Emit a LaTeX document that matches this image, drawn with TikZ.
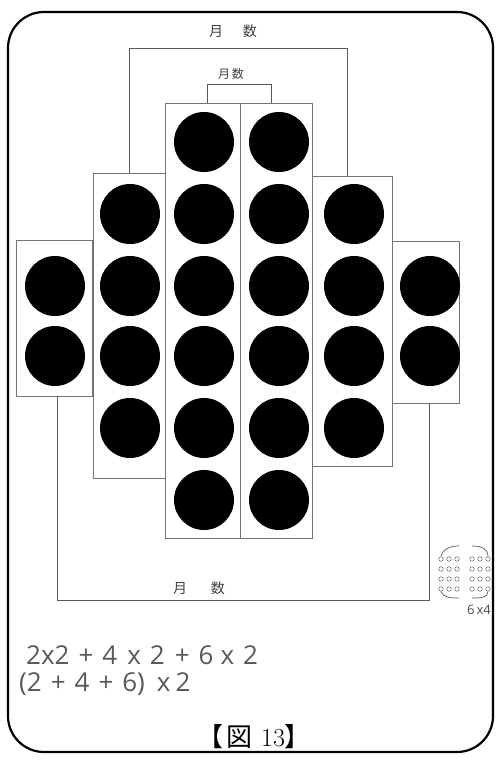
\documentclass[tikz,border=0pt]{standalone}
\usepackage{fontspec}
\newfontfamily\jp{Noto Sans CJK JP}
\newfontfamily\hand{Open Sans}
\begin{document}
\begin{tikzpicture}[x=1pt,y=-1pt,
  colbox/.style={draw=black!55, line width=0.8pt, minimum width=#1, inner sep=0pt},
  dot/.style={circle, fill=black, minimum size=60pt, inner sep=0pt},
  sdot/.style={circle, draw=black!60, line width=0.5pt, minimum size=4.5pt, inner sep=0pt},
  bracket/.style={draw=black!65, line width=0.8pt},
  lab/.style={font=\jp\fontsize{14}{14}\selectfont, text=black!75, inner sep=0pt},
  formula/.style={font=\hand\fontsize{26}{26}\selectfont, text=black!65, inner sep=0pt, anchor=west}]
\useasboundingbox (0,0) rectangle (501,760);
\draw[line width=2.2pt, rounded corners=36pt] (8,12) rectangle (493,752);
% columns
\node[colbox=76pt, minimum height=156pt] (c1) at (54,318) {};
\node[colbox=72pt, minimum height=305pt] (c2) at (129,325.5) {};
\node[colbox=75pt, minimum height=435pt] (c3) at (202.5,320.5) {};
\node[colbox=72pt, minimum height=435pt] (c4) at (276,320.5) {};
\node[colbox=80pt, minimum height=290pt] (c5) at (352,321) {};
\node[colbox=67pt, minimum height=162pt] (c6) at (425.5,322) {};
% dots
\foreach \y [count=\i] in {286,356} {
  \node[dot] (a\i) at (55,\y) {};
  \node[dot] (f\i) at (430,\y) {};
}
\foreach \y [count=\i] in {214,286,356,428} {
  \node[dot] (b\i) at (130,\y) {};
  \node[dot] (e\i) at (354,\y) {};
}
\foreach \y [count=\i] in {142,214,286,356,428,500} {
  \node[dot] (cc\i) at (204,\y) {};
  \node[dot] (d\i) at (279,\y) {};
}
% small top bracket
\coordinate (s1) at (207,84);
\coordinate (s2) at (271,84);
\draw[bracket] (s1 |- c3.north) -- (s1) -- (s2) -- (s2 |- c4.north);
\node[lab, font=\jp\fontsize{12}{12}\selectfont] (ls) at (231,74) {月\,数};
% big top bracket
\coordinate (t1) at (129,48);
\coordinate (t2) at (347,48);
\draw[bracket] (t1 |- c2.north) -- (t1) -- (t2) -- (t2 |- c5.north);
\node[lab] (lt) at (233,31) {月\hspace{20pt}数};
% bottom bracket
\coordinate (u1) at (57,600);
\coordinate (u2) at (429,600);
\draw[bracket] (u1 |- c1.south) -- (u1) -- (u2) -- (u2 |- c6.south);
\node[lab] (lb) at (199,588) {月\hspace{24pt}数};
% small sketch of 6x4
\foreach \r in {0,1,2,3} {
  \foreach \c [count=\k] in {441,449,457,472,480,488} {
    \node[sdot] (g\r\k) at (\c,{559+\r*10}) {};
  }
}
\draw[black!65, line width=0.7pt] (g01.north) .. controls (443,548) and (452,546) .. (459,546);
\draw[black!65, line width=0.7pt] (g06.north) .. controls (488,548) and (480,546) .. (472,546);
\draw[black!65, line width=0.7pt] (g31.south) .. controls (443,598) and (452,598) .. (459,598);
\draw[black!65, line width=0.7pt] (g36.south) .. controls (488,598) and (480,598) .. (472,598);
\node[font=\hand\fontsize{13}{13}\selectfont, text=black!70, inner sep=0pt] (l64) at (479,610) {6\,x4};
% formulas
\node[formula] (f1) at (26,655) {2x2\hspace{9pt}+\hspace{9pt}4\hspace{10pt}x\hspace{9pt}2\hspace{10pt}+\hspace{9pt}6\hspace{7pt}x\hspace{9pt}2};
\node[formula] (f2) at (19,684) {(2\hspace{9pt}+\hspace{9pt}4\hspace{9pt}+\hspace{9pt}6)\hspace{12pt}x\hspace{5pt}2};
% caption
\node[inner sep=0pt, font=\fontsize{26}{26}\selectfont] (cap) at (254,737) {{\jp【}\hspace{3pt}{\jp 図}\hspace{9pt}13{\jp】}};
\end{tikzpicture}
\end{document}
